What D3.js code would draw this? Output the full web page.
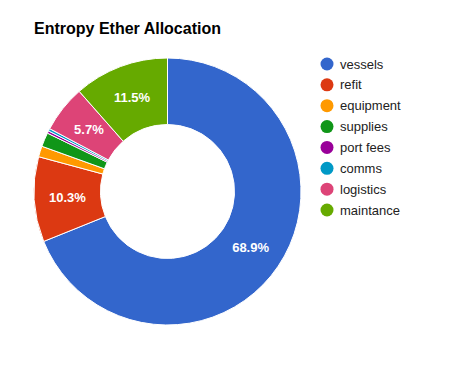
<!DOCTYPE html>
<html>
<head>
<meta charset="utf-8">
<script src="https://cdn.jsdelivr.net/npm/d3@7"></script>
<style>
  body { margin: 0; background: #fff; }
  text { font-family: "Liberation Sans", Arial, sans-serif; }
</style>
</head>
<body>
<div id="chart"></div>
<script>
const w = 466;
const h = 368;

// chart data
const categories = ["vessels", "refit", "equipment", "supplies", "port fees", "comms", "logistics", "maintance"];
const shares = [68.9, 10.3, 1.3, 1.7, 0.3, 0.3, 5.7, 11.5];
const colors = ["#3366cc", "#dc3912", "#ff9900", "#109618", "#990099", "#0099c6", "#dd4477", "#66aa00"];

const cx = 167.5;
const cy = 191.5;
const outerR = 133.5;
const innerR = 67;

const svg = d3.select("#chart").
append("svg").
attr("width", w).
attr("height", h);

svg.append("text").
attr("x", 34).
attr("y", 34).
attr("font-size", 16).
attr("font-weight", "bold").
attr("fill", "#000").
text("Entropy Ether Allocation");

const data = categories.map((c, i) => ({ name: c, value: shares[i], color: colors[i] }));

const pie = d3.pie().sort(null).value(d => d.value);
const arcs = pie(data);
const total = d3.sum(shares);

const arc = d3.arc().innerRadius(innerR).outerRadius(outerR);
const labelArc = d3.arc().innerRadius((innerR + outerR) / 2).outerRadius((innerR + outerR) / 2);

const g = svg.append("g").attr("transform", "translate(" + cx + "," + cy + ")");

g.selectAll("path").
data(arcs).
enter().
append("path").
attr("d", arc).
attr("fill", d => d.data.color).
attr("stroke", "#fff").
attr("stroke-width", 1);

g.selectAll(".lbl").
data(arcs.filter(d => d.data.value / total >= 0.05)).
enter().
append("text").
attr("class", "lbl").
attr("transform", d => "translate(" + labelArc.centroid(d) + ")").
attr("text-anchor", "middle").
attr("dy", "0.35em").
attr("font-size", 13).
attr("font-weight", "bold").
attr("fill", "#fff").
text(d => (d.data.value / total * 100).toFixed(1) + "%");

const legend = svg.append("g").attr("id", "legend");
const rowY = d3.scalePoint().domain(categories).range([64, 210]);

legend.selectAll("circle").
data(data).
enter().
append("circle").
attr("cx", 327).
attr("cy", d => rowY(d.name)).
attr("r", 6.5).
attr("fill", d => d.color);

legend.selectAll("text").
data(data).
enter().
append("text").
attr("x", 340).
attr("y", d => rowY(d.name)).
attr("dy", "0.35em").
attr("font-size", 13).
attr("fill", "#222").
text(d => d.name);
</script>
</body>
</html>
